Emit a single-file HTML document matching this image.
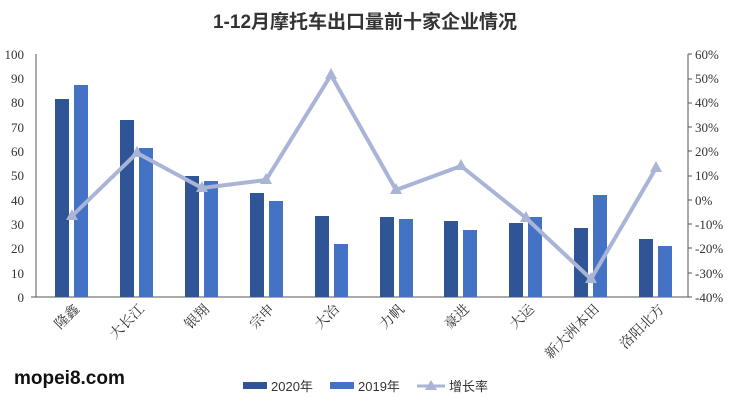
<!DOCTYPE html>
<html><head><meta charset="utf-8"><style>
body{margin:0;background:#fff;}
svg{display:block;font-family:"Liberation Serif","Noto Serif CJK SC",serif;}
</style></head><body>
<svg width="730" height="400" xmlns="http://www.w3.org/2000/svg">
<text x="365" y="28" text-anchor="middle" font-size="19" font-weight="bold" fill="#333" font-family="Liberation Sans,Noto Sans CJK SC,sans-serif">1-12月摩托车出口量前十家企业情况</text>
<g font-size="13" fill="#333" text-anchor="end">
<text x="24" y="302">0</text><text x="24" y="278">10</text><text x="24" y="253">20</text><text x="24" y="229">30</text><text x="24" y="205">40</text><text x="24" y="180">50</text><text x="24" y="156">60</text><text x="24" y="132">70</text><text x="24" y="107">80</text><text x="24" y="83">90</text><text x="24" y="59">100</text>
</g>
<g font-size="13" fill="#333" text-anchor="start">
<text x="695" y="302">-40%</text><text x="695" y="278">-30%</text><text x="695" y="253">-20%</text><text x="695" y="229">-10%</text><text x="695" y="205">0%</text><text x="695" y="180">10%</text><text x="695" y="156">20%</text><text x="695" y="132">30%</text><text x="695" y="107">40%</text><text x="695" y="83">50%</text><text x="695" y="59">60%</text>
</g>
<line x1="36" y1="54" x2="36" y2="297" stroke="#555"/>
<line x1="36" y1="297" x2="688" y2="297" stroke="#555"/>
<line x1="688" y1="54" x2="688" y2="297" stroke="#555"/>
<g stroke="#555"><line x1="31" y1="297" x2="36" y2="297"/><line x1="688" y1="54" x2="692" y2="54"/><line x1="688" y1="79" x2="692" y2="79"/><line x1="688" y1="103" x2="692" y2="103"/><line x1="688" y1="127" x2="692" y2="127"/><line x1="688" y1="151" x2="692" y2="151"/><line x1="688" y1="176" x2="692" y2="176"/><line x1="688" y1="200" x2="692" y2="200"/><line x1="688" y1="224" x2="692" y2="224"/><line x1="688" y1="248" x2="692" y2="248"/><line x1="688" y1="273" x2="692" y2="273"/><line x1="688" y1="297" x2="692" y2="297"/></g>
<g fill="#2f5597">
<rect x="55" y="99" width="14" height="198"/><rect x="120" y="120" width="14" height="177"/><rect x="185" y="176" width="14" height="121"/><rect x="250" y="193" width="14" height="104"/><rect x="315" y="216" width="14" height="81"/><rect x="380" y="217" width="14" height="80"/><rect x="444" y="221" width="14" height="76"/><rect x="509" y="223" width="14" height="74"/><rect x="574" y="228" width="14" height="69"/><rect x="639" y="239" width="14" height="58"/>
</g>
<g fill="#4472c4">
<rect x="74" y="85" width="14" height="212"/><rect x="139" y="148" width="14" height="149"/><rect x="204" y="181" width="14" height="116"/><rect x="269" y="201" width="14" height="96"/><rect x="334" y="244" width="14" height="53"/><rect x="399" y="219" width="14" height="78"/><rect x="463" y="230" width="14" height="67"/><rect x="528" y="217" width="14" height="80"/><rect x="593" y="195" width="14" height="102"/><rect x="658" y="246" width="14" height="51"/>
</g>
<polyline fill="none" stroke="#a9b4d6" stroke-width="4" stroke-linejoin="round" points="72,216 137,153 202,188 266,180 331,75 396,190 461,166 526,218 591,279 656,168"/>
<g fill="#a9b4d6">
<polygon points="72,209 78,220 66,220"/><polygon points="137,146 143,157 131,157"/><polygon points="202,181 208,192 196,192"/><polygon points="266,173 272,184 260,184"/><polygon points="331,68 337,79 325,79"/><polygon points="396,183 402,194 390,194"/><polygon points="461,159 467,170 455,170"/><polygon points="526,211 532,222 520,222"/><polygon points="591,272 597,283 585,283"/><polygon points="656,161 662,172 650,172"/>
</g>
<g font-size="14" fill="#333" text-anchor="end">
<text transform="translate(80,310) rotate(-45)">隆鑫</text>
<text transform="translate(145,310) rotate(-45)">大长江</text>
<text transform="translate(210,310) rotate(-45)">银翔</text>
<text transform="translate(275,310) rotate(-45)">宗申</text>
<text transform="translate(340,310) rotate(-45)">大冶</text>
<text transform="translate(405,310) rotate(-45)">力帆</text>
<text transform="translate(470,310) rotate(-45)">豪进</text>
<text transform="translate(535,310) rotate(-45)">大运</text>
<text transform="translate(600,310) rotate(-45)">新大洲本田</text>
<text transform="translate(665,310) rotate(-45)">洛阳北方</text>
</g>
<text x="14" y="384" font-size="19" font-weight="bold" fill="#111" font-family="Liberation Sans,sans-serif">mopei8.com</text>
<g font-size="13" fill="#333" font-family="Liberation Sans,Noto Sans CJK SC,sans-serif">
<rect x="243" y="382" width="24" height="7" fill="#2f5597"/><text x="271" y="391">2020年</text>
<rect x="330" y="382" width="24" height="7" fill="#4472c4"/><text x="358" y="391">2019年</text>
<line x1="417" y1="386" x2="445" y2="386" stroke="#a9b4d6" stroke-width="3"/><polygon points="431,380 437,390 425,390" fill="#a9b4d6"/><text x="449" y="391">增长率</text>
</g>
</svg>
</body></html>
